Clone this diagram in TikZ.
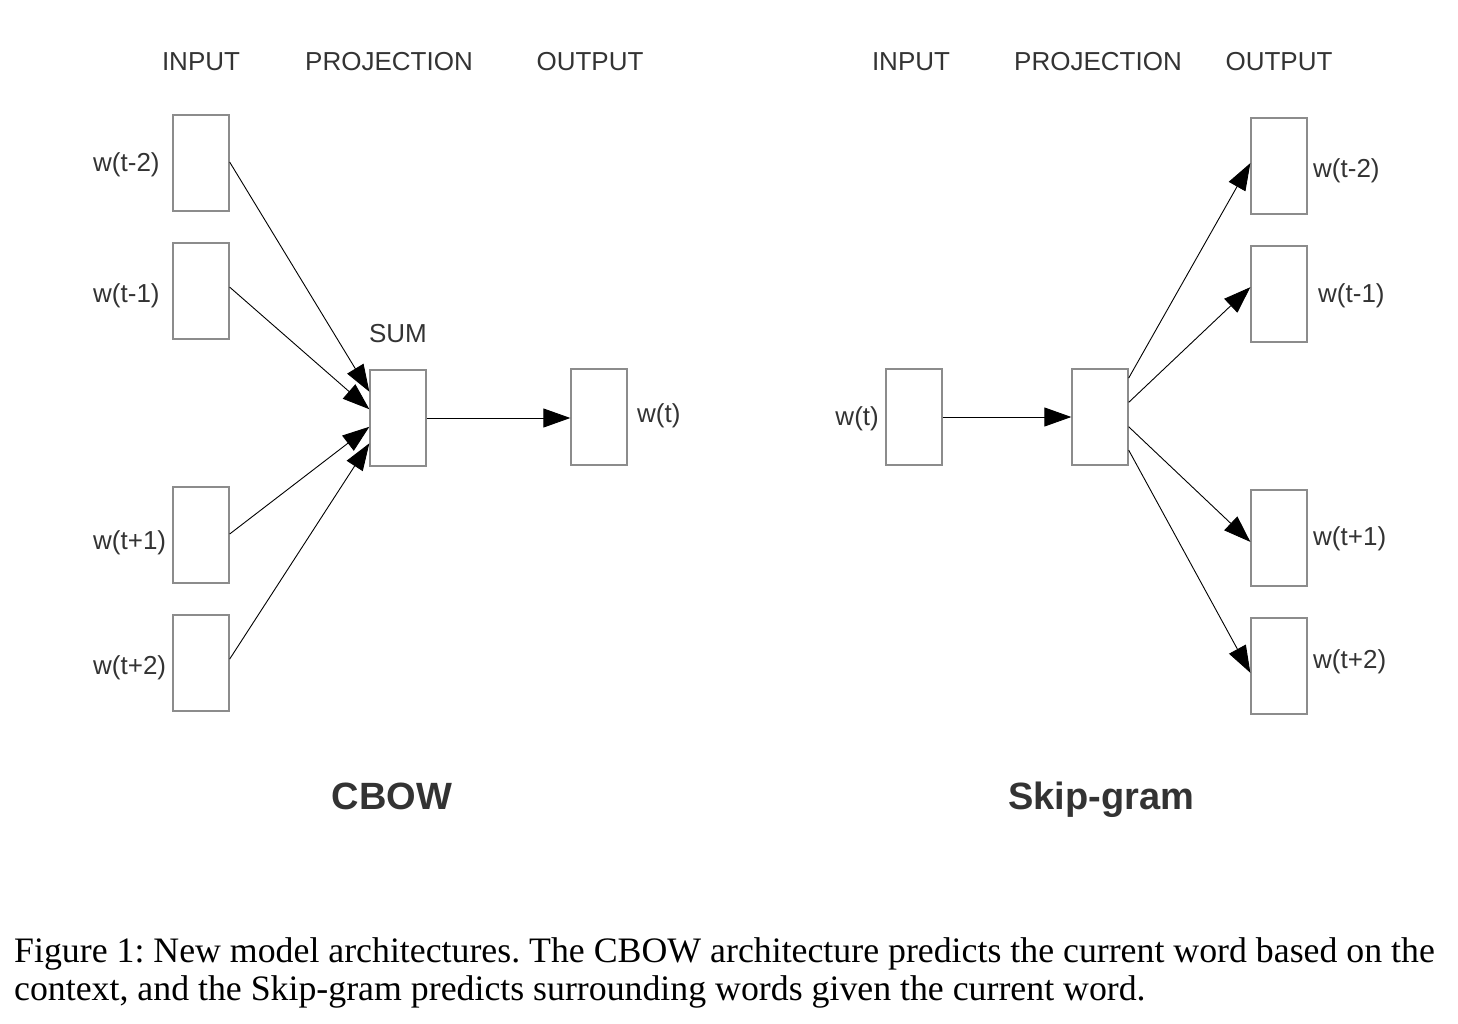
\documentclass[tikz,border=0pt]{standalone}
\usepackage{fontspec}
\setmainfont{Liberation Sans}
\newfontfamily\capfont{Liberation Serif}
\usetikzlibrary{arrows.meta,calc}
\definecolor{boxgray}{HTML}{8C8C8C}
\definecolor{txtgray}{HTML}{333333}
\frenchspacing
\begin{document}
\begin{tikzpicture}[x=1pt,y=-1pt,
  wbox/.style={draw=boxgray,line width=1.3pt,minimum width=56pt,minimum height=96pt,inner sep=0pt,fill=white},
  lbl/.style={inner sep=0pt,text=txtgray,font=\fontsize{26}{30}\selectfont},
  title/.style={inner sep=0pt,text=txtgray,font=\fontsize{38}{44}\selectfont\bfseries,anchor=base},
  conn/.style={draw=black,line width=0.9pt,-{Triangle[length=27pt,width=19pt]}}]
\useasboundingbox (0,0) rectangle (1458,1024);
% headers
\node[lbl,anchor=base] (h1) at (201,71) {INPUT};
\node[lbl,anchor=base] (h2) at (389,71) {PROJECTION};
\node[lbl,anchor=base] (h3) at (590,71) {OUTPUT};
\node[lbl,anchor=base] (h4) at (911,71) {INPUT};
\node[lbl,anchor=base] (h5) at (1098,71) {PROJECTION};
\node[lbl,anchor=base] (h6) at (1279,71) {OUTPUT};
% CBOW boxes
\node[wbox] (a1) at (201,163) {};
\node[wbox] (a2) at (201,291) {};
\node[wbox] (a3) at (201,535) {};
\node[wbox] (a4) at (201,663) {};
\node[wbox] (sum) at (398,418) {};
\node[wbox] (out) at (599,417) {};
\node[lbl,anchor=west] (la1) at (93,165) {w(t-2)};
\node[lbl,anchor=west] (la2) at (93,296) {w(t-1)};
\node[lbl,anchor=west] (la3) at (93,543) {w(t+1)};
\node[lbl,anchor=west] (la4) at (93,668) {w(t+2)};
\node[lbl,anchor=base] (lsum) at (398,342) {SUM};
\node[lbl,anchor=west] (lout) at (637,416) {w(t)};
\coordinate (s1) at ($(sum.north west)!0.23!(sum.south west)$);
\coordinate (s2) at ($(sum.north west)!0.41!(sum.south west)$);
\coordinate (s3) at ($(sum.north west)!0.59!(sum.south west)$);
\coordinate (s4) at ($(sum.north west)!0.76!(sum.south west)$);
\draw[conn] ($(a1.north east)!0.49!(a1.south east)$) -- (s1);
\draw[conn] ($(a2.north east)!0.46!(a2.south east)$) -- (s2);
\draw[conn] ($(a3.north east)!0.49!(a3.south east)$) -- (s3);
\draw[conn] ($(a4.north east)!0.46!(a4.south east)$) -- (s4);
\draw[conn] (sum.east) -- (sum.east -| out.west);
% Skip-gram
\node[wbox] (in) at (914,417) {};
\node[wbox] (proj) at (1100,417) {};
\node[wbox] (b1) at (1279,166) {};
\node[wbox] (b2) at (1279,294) {};
\node[wbox] (b3) at (1279,538) {};
\node[wbox] (b4) at (1279,666) {};
\node[lbl,anchor=east] (lin) at (879,419) {w(t)};
\node[lbl,anchor=west] (lb1) at (1313,171) {w(t-2)};
\node[lbl,anchor=west] (lb2) at (1318,296) {w(t-1)};
\node[lbl,anchor=west] (lb3) at (1313,539) {w(t+1)};
\node[lbl,anchor=west] (lb4) at (1313,662) {w(t+2)};
\draw[conn] (in.east) -- (proj.west);
\coordinate (p1) at ($(proj.north east)!0.10!(proj.south east)$);
\coordinate (p2) at ($(proj.north east)!0.35!(proj.south east)$);
\coordinate (p3) at ($(proj.north east)!0.60!(proj.south east)$);
\coordinate (p4) at ($(proj.north east)!0.84!(proj.south east)$);
\draw[conn] (p1) -- ($(b1.north west)!0.47!(b1.south west)$);
\draw[conn] (p2) -- ($(b2.north west)!0.43!(b2.south west)$);
\draw[conn] (p3) -- ($(b3.north west)!0.54!(b3.south west)$);
\draw[conn] (p4) -- ($(b4.north west)!0.57!(b4.south west)$);
% titles
\node[title] (t1) at (392,809) {CBOW};
\node[title] (t2) at (1101,809) {Skip-gram};
% caption
\node[anchor=base west,inner sep=0pt,font=\capfont\fontsize{35.8}{42}\selectfont] (cap1) at (14,962) {Figure 1: New model architectures. The CBOW architecture predicts the current word based on the};
\node[anchor=base west,inner sep=0pt,font=\capfont\fontsize{35.8}{42}\selectfont] (cap2) at (14,1000) {context, and the Skip-gram predicts surrounding words given the current word.};
\end{tikzpicture}
\end{document}
